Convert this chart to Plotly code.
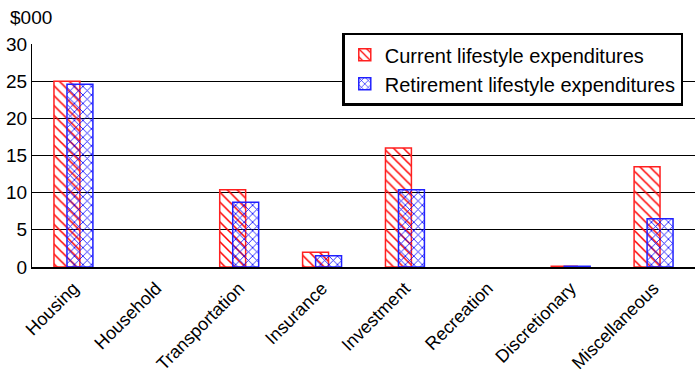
import plotly.graph_objects as go

categories = ["Housing", "Household", "Transportation", "Insurance",
              "Investment", "Recreation", "Discretionary", "Miscellaneous"]
current = [25.0, None, 10.4, 2.0, 16.0, None, 0.1, 13.5]
retirement = [24.6, None, 8.7, 1.5, 10.4, None, 0.1, 6.5]

FONT = "Liberation Sans, Arial, sans-serif"

fig = go.Figure()
fig.add_trace(go.Bar(
    x=categories, y=current, name="Current lifestyle expenditures",
    width=0.313, offset=-0.235,
    marker=dict(color="#ff0000",
                line=dict(color="#ff2020", width=1.5),
                pattern=dict(shape="\\", size=7, solidity=0.22, fillmode="replace")),
))
fig.add_trace(go.Bar(
    x=categories, y=retirement, name="Retirement lifestyle expenditures",
    width=0.313, offset=-0.078,
    marker=dict(color="#0000ff",
                line=dict(color="#2020ff", width=1.5),
                pattern=dict(shape="x", size=6, solidity=0.25, fillmode="replace")),
))

fig.update_layout(
    width=695, height=377,
    margin=dict(l=32, r=0, t=44, b=110, autoexpand=False),
    barmode="overlay",
    plot_bgcolor="white", paper_bgcolor="white",
    font=dict(family=FONT, color="black", size=19),
    legend=dict(x=0.468, y=1.05, xanchor="left", yanchor="top",
                bgcolor="white", bordercolor="black", borderwidth=2.5,
                font=dict(size=20, family=FONT), tracegroupgap=0,
                itemwidth=30),
    annotations=[dict(text="$000", xref="paper", yref="paper",
                      x=-0.036, y=1.117, xanchor="left", yanchor="middle",
                      showarrow=False, font=dict(size=19, family=FONT))],
)
fig.update_yaxes(range=[0, 30], dtick=5, showgrid=True, gridcolor="black",
                 gridwidth=1, showline=True, linecolor="black", linewidth=1,
                 ticks="", zeroline=False, tickfont=dict(size=19),
                 automargin=False)
fig.update_xaxes(showline=True, linecolor="black", linewidth=1.5, ticks="",
                 tickangle=-45, tickfont=dict(size=18), showgrid=False,
                 ticklabelstandoff=2, automargin=False)

fig.write_html("out.html")
